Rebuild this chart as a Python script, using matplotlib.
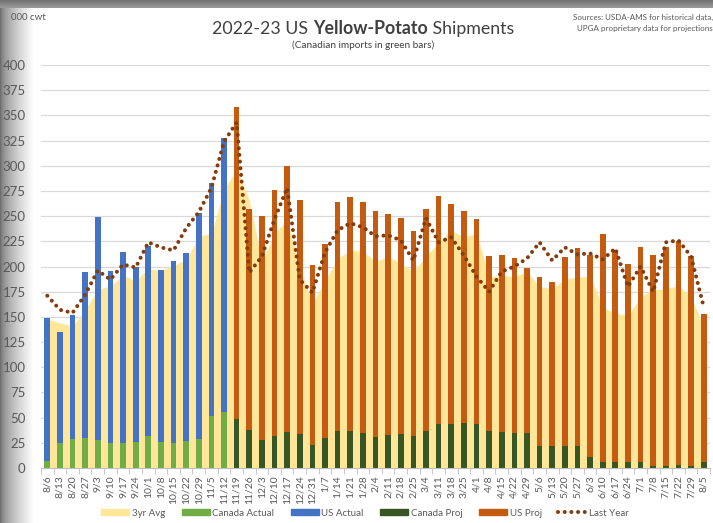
import numpy as np
import matplotlib
matplotlib.use("Agg")
import matplotlib.pyplot as plt
from matplotlib.lines import Line2D
from matplotlib.patches import Patch

plt.rcParams["font.family"] = ["Lato", "DejaVu Sans"]

weeks = ["8/6", "8/13", "8/20", "8/27", "9/3", "9/10", "9/17", "9/24", "10/1", "10/8",
         "10/15", "10/22", "10/29", "11/5", "11/12", "11/19", "11/26", "12/3", "12/10",
         "12/17", "12/24", "12/31", "1/7", "1/14", "1/21", "1/28", "2/4", "2/11", "2/18",
         "2/25", "3/4", "3/11", "3/18", "3/25", "4/1", "4/8", "4/15", "4/22", "4/29",
         "5/6", "5/13", "5/20", "5/27", "6/3", "6/10", "6/17", "6/24", "7/1", "7/8",
         "7/15", "7/22", "7/29", "8/5"]

# actual weeks (8/6 - 11/12)
canada_actual = [7, 25, 29, 30, 28, 25, 25, 26, 32, 26, 25, 27, 29, 52, 56]
us_actual = [142, 110, 123, 165, 221, 171, 189, 174, 188, 171, 180, 186, 224, 231, 272]

# projected weeks (11/19 - 8/5)
canada_proj = [49, 38, 28, 32, 36, 34, 23, 30, 37, 37, 35, 31, 33, 34, 32, 37, 44, 44, 45, 44,
               37, 36, 35, 35, 22, 22, 22, 22, 11, 6, 6, 6, 6, 2, 2, 3, 2, 6]
us_proj = [309, 219, 222, 244, 264, 232, 178, 192, 227, 232, 229, 224, 219, 214, 203, 220, 226,
           218, 210, 203, 173, 175, 173, 164, 168, 163, 187, 196, 200, 226, 209, 196, 213, 209,
           217, 222, 208, 147]

avg_3yr = [148, 144, 141, 157, 177, 181, 191, 186, 198, 196, 201, 207, 230, 233, 276,
           297, 266, 205, 233, 246, 200, 163, 186, 208, 216, 215, 205, 210, 203, 195,
           210, 224, 236, 229, 233,
           190, 191, 190, 195, 180, 178, 188, 189, 191, 159, 154, 151, 170, 177, 178,
           181, 170, 140]

last_year = [171, 157, 154, 172, 196, 187, 202, 199, 224, 219, 216, 238, 254, 278, 324,
             343, 194, 210, 247, 278, 187, 174, 214, 236, 243, 239, 230, 231, 226, 206,
             248, 224, 229, 211, 190, 175, 195, 200, 208, 224, 206, 219, 212, 213, 207,
             218, 180, 200, 175, 224, 226, 210, 160]

c_avg = "#FFE699"
c_can_act = "#70AD47"
c_us_act = "#4472C4"
c_can_proj = "#375623"
c_us_proj = "#C55A11"
c_last = "#843C0C"
txt = "#595959"

W, H = 713, 523
fig = plt.figure(figsize=(W / 100, H / 100), dpi=100)
fig.patch.set_facecolor("white")

# grey screenshot border (left gradient + top strip)
bl = fig.add_axes([0, 0, 34 / W, 1], zorder=-5)
grad = np.linspace(0, 1, 64) ** 0.6
bl.imshow(grad[None, :], aspect="auto", cmap="gray", vmin=-0.7, vmax=1.0, extent=[0, 1, 0, 1])
bl.axis("off")
bt = fig.add_axes([0, 1 - 8 / H, 1, 8 / H], zorder=-4)
bt.imshow(np.linspace(0.45, 0.6, 8)[:, None], aspect="auto", cmap="gray", vmin=0, vmax=1,
          extent=[0, 1, 0, 1])
bt.axis("off")

ax = fig.add_axes([41 / W, 1 - 468 / H, (710 - 41) / W, (468 - 65) / H])
ax.set_facecolor("none")

x = np.arange(len(weeks))
na = len(canada_actual)
xa = x[:na]
xp = x[na:]
bw = 0.45

ax.fill_between(x, avg_3yr, color=c_avg, lw=0, zorder=1)
ax.bar(xa, canada_actual, bw, color=c_can_act, zorder=2)
ax.bar(xa, us_actual, bw, bottom=canada_actual, color=c_us_act, zorder=2)
ax.bar(xp, canada_proj, bw, color=c_can_proj, zorder=2)
ax.bar(xp, us_proj, bw, bottom=canada_proj, color=c_us_proj, zorder=2)
ax.plot(x, last_year, color=c_last, lw=2.9, ls=(0, (0.01, 1.65)),
        dash_capstyle="round", zorder=3)

ax.set_xlim(-0.5, len(weeks) - 0.5)
ax.set_ylim(0, 400)
ax.set_yticks(np.arange(0, 401, 25))
ax.yaxis.grid(True, color="#D9D9D9", lw=0.9)
ax.set_axisbelow(True)
for s in ["top", "right", "left"]:
    ax.spines[s].set_visible(False)
ax.spines["bottom"].set_color("#BFBFBF")
ax.spines["bottom"].set_zorder(4)
ax.tick_params(axis="y", length=0, pad=11, labelsize=9.5, labelcolor=txt)
ax.set_xticks(x)
ax.set_xticklabels(weeks, rotation=90, fontsize=7.5, color=txt)
ax.set_xticks(np.arange(-0.5, len(weeks), 1), minor=True)
ax.tick_params(axis="x", which="major", length=0, pad=5)
ax.tick_params(axis="x", which="minor", length=4, color="#BFBFBF")

# title with bold middle part
def title_parts(parts, cx, cy, size):
    r = fig.canvas.get_renderer()
    items = []
    for s, wt in parts:
        t = fig.text(0, cy, s, fontsize=size, fontweight=wt, color="#404040",
                     va="center", ha="left")
        items.append(t)
    widths = [t.get_window_extent(r).width for t in items]
    start = cx - sum(widths) / 2
    for t, w in zip(items, widths):
        t.set_x(start / W)
        start += w

title_parts([("2022-23 US ", "normal"), ("Yellow-Potato", "bold"), (" Shipments", "normal")],
            363, 1 - 29 / H, 12.8)
fig.text(363 / W, 1 - 45 / H, "(Canadian imports in green bars)", ha="center", va="center",
         fontsize=7.2, color="#404040")
fig.text(11 / W, 1 - 17 / H, "000 cwt", ha="left", va="center", fontsize=7, color=txt)
fig.text(713 / W, 1 - 17 / H, "Sources: USDA-AMS for historical data,", ha="right",
         va="center", fontsize=5.8, color=txt)
fig.text(713 / W, 1 - 29 / H, "UPGA proprietary data for projections", ha="right",
         va="center", fontsize=5.8, color=txt)

handles = [Patch(color=c_avg), Patch(color=c_can_act), Patch(color=c_us_act),
           Patch(color=c_can_proj), Patch(color=c_us_proj),
           Line2D([], [], color=c_last, lw=2.9, ls=(0, (0.01, 1.65)), dash_capstyle="round")]
labels = ["3yr Avg", "Canada Actual", "US Actual", "Canada Proj", "US Proj", "Last Year"]
fig.legend(handles, labels, loc="center", bbox_to_anchor=(365 / W, 1 - 513 / H), ncol=6,
           frameon=False, fontsize=7, handlelength=2.9, handleheight=0.55,
           columnspacing=1.7, handletextpad=0.25, labelcolor=txt)

fig.savefig("out.png", dpi=100)
